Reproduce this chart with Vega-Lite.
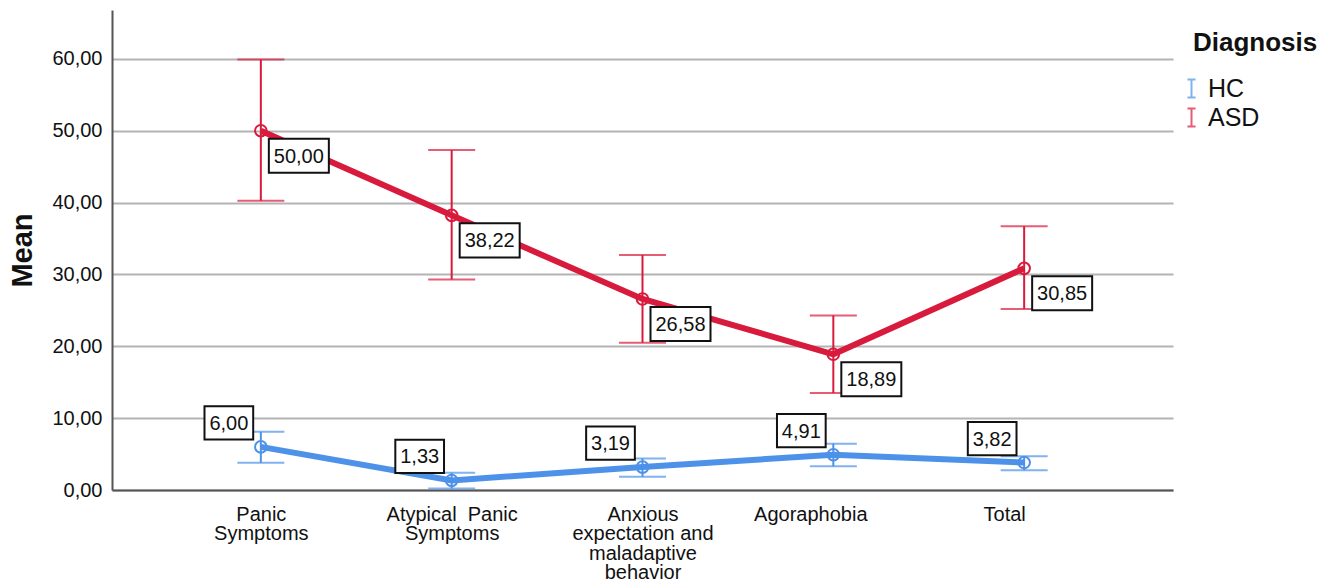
{
  "$schema": "https://vega.github.io/schema/vega-lite/v6.json",
  "autosize": {"type": "none"},
  "padding": {"left": 112, "top": 10, "right": 152, "bottom": 92},
  "width": 1061,
  "height": 480,
  "background": "white",
  "config": {
    "locale": {"number": {"decimal": ",", "thousands": ".", "grouping": [3], "currency": ["", ""]}},
    "font": "Liberation Sans",
    "view": {"stroke": null}
  },
  "data": {
    "values": [
      {"group": "HC", "category": "Panic Symptoms", "mean": 6.00, "lo": 3.8, "hi": 8.1},
      {"group": "HC", "category": "Atypical  Panic Symptoms", "mean": 1.33, "lo": 0.2, "hi": 2.4},
      {"group": "HC", "category": "Anxious expectation and maladaptive behavior", "mean": 3.19, "lo": 1.85, "hi": 4.4},
      {"group": "HC", "category": "Agoraphobia", "mean": 4.91, "lo": 3.3, "hi": 6.45},
      {"group": "HC", "category": "Total", "mean": 3.82, "lo": 2.75, "hi": 4.7},
      {"group": "ASD", "category": "Panic Symptoms", "mean": 50.00, "lo": 40.25, "hi": 59.9},
      {"group": "ASD", "category": "Atypical  Panic Symptoms", "mean": 38.22, "lo": 29.3, "hi": 47.3},
      {"group": "ASD", "category": "Anxious expectation and maladaptive behavior", "mean": 26.58, "lo": 20.5, "hi": 32.7},
      {"group": "ASD", "category": "Agoraphobia", "mean": 18.89, "lo": 13.5, "hi": 24.3},
      {"group": "ASD", "category": "Total", "mean": 30.85, "lo": 25.2, "hi": 36.7}
    ]
  },
  "encoding": {
    "x": {
      "field": "category",
      "type": "nominal",
      "sort": ["Panic Symptoms", "Atypical  Panic Symptoms", "Anxious expectation and maladaptive behavior", "Agoraphobia", "Total"],
      "scale": {"type": "point", "padding": 0.78},
      "axis": {
        "title": null,
        "labelAngle": 0,
        "ticks": false,
        "domainColor": "#555555",
        "domainWidth": 2,
        "labelFontSize": 20,
        "labelColor": "#111111",
        "labelPadding": 14,
        "labelLineHeight": 19.5,
        "labelOffset": {"condition": [{"test": "datum.value == 'Agoraphobia'", "value": -23}, {"test": "datum.value == 'Total'", "value": -20}], "value": 0},
        "labelExpr": "datum.value == 'Panic Symptoms' ? ['Panic', 'Symptoms'] : datum.value == 'Atypical  Panic Symptoms' ? ['Atypical\u00a0 Panic', 'Symptoms'] : datum.value == 'Anxious expectation and maladaptive behavior' ? ['Anxious', 'expectation and', 'maladaptive', 'behavior'] : datum.value"
      }
    }
  },
  "layer": [
    {
      "mark": {"type": "rule", "strokeWidth": 2},
      "encoding": {
        "y": {
          "field": "lo",
          "type": "quantitative",
          "scale": {"domain": [0, 66.8], "nice": false, "zero": true},
          "axis": {
            "title": "Mean",
            "titleFontSize": 29,
            "titleFontWeight": "bold",
            "titleColor": "#111111",
            "titlePadding": 14,
            "values": [0, 10, 20, 30, 40, 50, 60],
            "format": ".2f",
            "labelFontSize": 20,
            "labelColor": "#111111",
            "labelPadding": 10,
            "ticks": false,
            "domainColor": "#555555",
            "domainWidth": 2,
            "grid": true,
            "gridColor": "#b4b4b4",
            "gridWidth": 2
          }
        },
        "y2": {"field": "hi"},
        "color": {
          "field": "group",
          "type": "nominal",
          "scale": {"domain": ["HC", "ASD"], "range": ["#4d92e8", "#d81b3c"]},
          "legend": {
            "title": "Diagnosis",
            "orient": "none",
            "legendX": 1081,
            "legendY": 20,
            "titleFontSize": 26,
            "titleFontWeight": "bold",
            "titleColor": "#111111",
            "titlePadding": 20,
            "labelFontSize": 25,
            "labelColor": "#111111",
            "labelOffset": 4,
            "rowPadding": 2,
            "symbolOffset": -14,
            "symbolType": "M-0.45,-1H0.45M0,-1V1M-0.45,1H0.45",
            "symbolSize": 324,
            "symbolStrokeWidth": 2,
            "symbolFillColor": "transparent"
          }
        }
      }
    },
    {
      "mark": {"type": "tick", "orient": "horizontal", "size": 47, "thickness": 2},
      "encoding": {"y": {"field": "lo", "type": "quantitative"}, "color": {"field": "group", "type": "nominal"}}
    },
    {
      "mark": {"type": "tick", "orient": "horizontal", "size": 47, "thickness": 2},
      "encoding": {"y": {"field": "hi", "type": "quantitative"}, "color": {"field": "group", "type": "nominal"}}
    },
    {
      "mark": {"type": "line", "strokeWidth": 6},
      "encoding": {"y": {"field": "mean", "type": "quantitative"}, "color": {"field": "group", "type": "nominal"}}
    },
    {
      "mark": {"type": "point", "shape": "circle", "size": 135, "filled": false, "strokeWidth": 2, "opacity": 1},
      "encoding": {"y": {"field": "mean", "type": "quantitative"}, "color": {"field": "group", "type": "nominal"}}
    },
    {
      "transform": [{"filter": "datum.group == 'ASD'"}],
      "mark": {"type": "point", "shape": "M-1,-0.567H1V0.567H-1Z", "size": 3600, "filled": true, "fill": "white", "stroke": "#111111", "strokeWidth": 2, "opacity": 1, "xOffset": 38, "yOffset": 25},
      "encoding": {"y": {"field": "mean", "type": "quantitative"}}
    },
    {
      "transform": [{"filter": "datum.group == 'ASD'"}],
      "mark": {"type": "text", "fontSize": 20, "color": "#111111", "align": "center", "baseline": "middle", "dx": 38, "dy": 26},
      "encoding": {"y": {"field": "mean", "type": "quantitative"}, "text": {"field": "mean", "type": "quantitative", "format": ".2f"}}
    },
    {
      "transform": [{"filter": "datum.group == 'HC'"}],
      "mark": {"type": "point", "shape": "M-1,-0.684H1V0.684H-1Z", "size": 2372, "filled": true, "fill": "white", "stroke": "#111111", "strokeWidth": 2, "opacity": 1, "xOffset": -32, "yOffset": -24},
      "encoding": {"y": {"field": "mean", "type": "quantitative"}}
    },
    {
      "transform": [{"filter": "datum.group == 'HC'"}],
      "mark": {"type": "text", "fontSize": 20, "color": "#111111", "align": "center", "baseline": "middle", "dx": -32, "dy": -23},
      "encoding": {"y": {"field": "mean", "type": "quantitative"}, "text": {"field": "mean", "type": "quantitative", "format": ".2f"}}
    }
  ]
}
